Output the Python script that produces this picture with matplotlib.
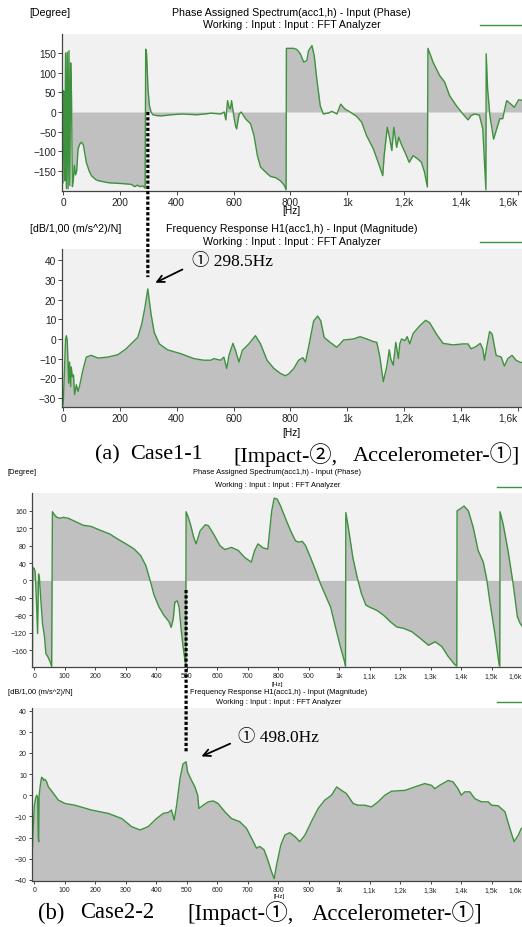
import matplotlib.pyplot as plt
from matplotlib.lines import Line2D
from matplotlib.patches import ConnectionPatch

plt.rcParams['font.family'] = ['Liberation Sans', 'DejaVu Sans']

# ---- (a) Case1-1 : phase ----
pha_f = [0, 1.5, 4, 6, 9, 12, 15, 18, 21, 24, 27, 30, 33, 36, 40, 44, 48, 53, 60, 66,
         72, 82, 92, 100, 115, 125, 160, 205, 240, 252, 262, 270, 281, 289, 291, 294, 299,
         304, 310, 316, 330, 345, 380, 420, 470, 500, 520, 555, 567, 573, 579, 585, 589,
         593, 598, 602, 607, 611, 616, 620, 627, 643, 660, 672, 684, 695, 713, 730, 748,
         765, 778, 785, 786, 800, 812, 823, 835, 847, 858, 864, 876, 884, 893, 905, 916,
         934, 946, 964, 977, 992, 1010, 1033, 1051, 1068, 1092, 1109, 1125, 1130, 1141,
         1150, 1157, 1164, 1174, 1181, 1192, 1203, 1218, 1232, 1249, 1261, 1272, 1282,
         1284, 1302, 1325, 1343, 1360, 1384, 1407, 1425, 1436, 1448, 1465, 1477, 1485,
         1488, 1489, 1494, 1502, 1515, 1526, 1537, 1547, 1561, 1576, 1588, 1603, 1615]
pha_v = [-180, 54, 50, -175, 150, -195, 152, -195, 156, -187, 125, 37, -190, -175, -136,
         -160, -150, -94, -80, -77, -85, -128, -150, -162, -172, -175, -180, -182, -184,
         -190, -186, -190, -188, -194, 160, 150, 60, 16, 0, -7, -9, -10, -7, -5, -7, -5,
         -3, -5, 0, -20, 29, 10, 8, 29, 5, -15, -35, -43, -20, -5, 0, -18, -30, -60, -111,
         -140, -153, -164, -167, -175, -186, -198, 162, 162, 162, 159, 148, 127, 131, 156,
         169, 143, 84, 16, -5, -2.5, 1.7, -5, 20, 7.6, 0, -11, -26, -60, -94, -128, -162,
         -111, -39, -69, -98, -39, -90, -64, -85, -102, -128, -111, -120, -128, -153, -191,
         162, 127, 93, 76, 42, 16, -5, -20, -9, -5, -8, -43, -153, -198, 148, 59, -9, -69,
         -43, -17, -17, 29, 20, 12, 31, 30]

# ---- (a) Case1-1 : magnitude ----
maga_f = [0, 2, 9, 12, 15, 20, 23, 27, 29, 33, 37, 41, 47, 53, 58, 70, 82, 99, 123, 158,
          193, 222, 245, 263, 277, 288, 298.5, 301, 310, 321, 339, 368, 415, 461, 496, 520,
          531, 555, 566, 576, 584, 598, 607, 619, 631, 654, 677, 695, 718, 742, 765, 782,
          794, 812, 829, 844, 853, 864, 882, 896, 907, 919, 940, 963, 975, 987, 1022, 1045,
          1069, 1092, 1104, 1115, 1127, 1139, 1148, 1153, 1162, 1171, 1180, 1185, 1191,
          1203, 1211, 1220, 1232, 1255, 1276, 1290, 1314, 1337, 1372, 1407, 1425, 1436,
          1454, 1468, 1477, 1483, 1489, 1501, 1510, 1524, 1542, 1553, 1565, 1580, 1594,
          1606, 1615]
maga_v = [-34, -29, 0, 1.7, -0.8, -22.5, -11.7, -24.2, -14.2, -19.2, -18.3, -28.3, -23.3,
          -26.7, -24.2, -15.8, -9.2, -8.3, -9.7, -9.2, -8, -5, -1.7, 0.8, 7.5, 15.8, 25.5,
          22.5, 12.5, 3.3, -2.5, -5.5, -7.5, -10, -10.8, -10.8, -10, -10.8, -9.2, -15, -8.3,
          -2.2, -5.8, -11.7, -5.8, -2.5, 1.7, -2.5, -10.8, -15, -17.5, -18.7, -17.8, -15,
          -10.8, -9.5, -11.7, -4.2, 9.2, 11.7, 9.2, 0.8, -1.7, -4.2, -2.5, -0.5, 0, 1.2, 0,
          -1.3, -1.7, -9.2, -21.7, -14.2, -5.5, -10, -13.3, -1.7, -10, -2.5, 0, -0.8, 1.2,
          -2.5, 2.8, 6.7, 9.5, 8.3, 2.5, -2.2, -3, -2.5, -2.5, -5, -3.8, -2.2, -5, -10.8,
          -5.5, 3.8, 2.5, -8.3, -9.2, -13.8, -10, -8.3, -10.8, -11.7, -12]

# ---- (b) Case2-2 : phase ----
phb_f = [-6, -5, 0, 3, 6.5, 10.8, 14, 17, 21.6, 27, 33.5, 38, 44, 52, 57, 59.5, 66, 74,
         84, 95, 111, 133, 160, 187, 214, 247, 274, 301, 328, 349, 366, 380, 393, 409, 425,
         442, 449, 456, 461, 469, 475, 482, 488, 495, 497, 498, 503, 512, 523, 531, 544,
         561, 571, 588, 609, 625, 647, 669, 690, 712, 723, 734, 750, 766, 773, 779, 787,
         797, 808, 825, 841, 857, 868, 879, 890, 906, 923, 939, 955, 972, 988, 1004, 1019,
         1021, 1022, 1032, 1045, 1059, 1073, 1088, 1102, 1124, 1146, 1168, 1189, 1211,
         1239, 1266, 1293, 1315, 1337, 1358, 1380, 1386, 1387, 1396, 1410, 1424, 1440,
         1456, 1473, 1484, 1494, 1511, 1525, 1527, 1528, 1538, 1554, 1571, 1585, 1594, 1600]
phb_v = [-195, 30, 27, 19, -38, -122, 15, 4, -46, -99, -130, -168, -175, -187, -198, 158,
         151, 145, 143, 145, 143, 136, 127, 124, 116, 107, 95, 84, 72, 57, 34, 0, -34, -61,
         -80, -95, -108, -88, -50, -47, -61, -114, -152, -187, -197, 158, 149, 130, 99, 84,
         114, 128, 126, 107, 80, 71, 76, 69, 53, 42, 69, 84, 75, 72, 120, 160, 189, 187,
         171, 141, 114, 91, 88, 90, 80, 53, 23, -8, -34, -61, -107, -152, -190, -197, 156,
         114, 53, 8, -30, -57, -62, -69, -80, -95, -107, -110, -118, -133, -149, -141, -152,
         -175, -194, -197, 160, 164, 171, 160, 122, 69, 42, 4, -46, -122, -194, -197, 158,
         130, 69, -8, -84, -99, -105]

# ---- (b) Case2-2 : magnitude ----
magb_f = [-6, -4, 0, 5, 8, 11, 13, 14.5, 16, 20, 24, 28, 31, 35, 40, 46, 57, 79, 101, 133,
          188, 243, 287, 319, 347, 374, 401, 423, 440, 450, 459, 467, 478, 488, 498, 503,
          516, 527, 536, 540, 554, 571, 587, 603, 625, 647, 674, 696, 713, 729, 740, 754,
          767, 778, 787, 795, 809, 822, 838, 855, 871, 888, 909, 931, 953, 975, 992, 1008,
          1024, 1046, 1062, 1084, 1106, 1128, 1150, 1172, 1216, 1248, 1281, 1303, 1314,
          1330, 1358, 1374, 1390, 1401, 1412, 1429, 1445, 1467, 1489, 1500, 1522, 1544,
          1560, 1574, 1588, 1598]
magb_v = [-25, -17, -5, -1, 0, -1, -20, -22, 0, 5, 8.5, 8, 7, 7.5, 6.5, 4, 2, -2.3, -3.9,
          -4.7, -7, -8.6, -11, -14.8, -16.4, -14.8, -11, -8.6, -8.1, -7, -11.7, -4.7, 7.8,
          14.8, 15.8, 10.9, 7, 3.9, 0, -6.3, -4.7, -3.1, -2.7, -3.9, -7.8, -11, -12.5,
          -15.6, -20.3, -25, -24.2, -25.8, -31, -36, -39.4, -32.8, -23.4, -18.8, -17.7,
          -19.5, -21.9, -18.8, -12.5, -6.3, -2.3, 0, 3.9, 2.3, 0.8, -3.9, -4.7, -4.7, -5.5,
          -3.1, 0, 1.9, 2.3, 3.9, 5.5, 4.7, 3.1, 4.7, 7, 6.3, 3.1, 0, 1.6, 1.6, -1.6, -3.1,
          -3.1, -4.7, -5, -7.8, -15.6, -21.9, -18.8, -15.6]

ticks_a = [0, 200, 400, 600, 800, 1000, 1200, 1400, 1600]
tlab_a = ['0', '200', '400', '600', '800', '1k', '1,2k', '1,4k', '1,6k']
ticks_b = list(range(0, 1700, 100))
tlab_b = [str(t) for t in range(0, 1000, 100)] + ['1k', '1,1k', '1,2k', '1,3k', '1,4k', '1,5k', '1,6k']

peak_a, peak_b = 298.5, 498.0

W, H = 522, 928
GREEN = '#3e923e'
FILL = '#c0c0c0'
BG = '#f1f1f1'
SERIF = ['Liberation Serif', 'Noto Sans CJK KR']
DOTS = (0, (1, 0.65))

fig = plt.figure(figsize=(W / 100, H / 100), dpi=100)


def box(l, t, r, b):
    return [l / W, 1 - b / H, (r - l) / W, (b - t) / H]


def ftext(x, y, s, **kw):
    fig.text(x / W, 1 - y / H, s, **kw)


def legend_line(x0, x1, y):
    fig.add_artist(Line2D([x0 / W, x1 / W], [1 - y / H, 1 - y / H], color=GREEN, lw=1.0,
                          transform=fig.transFigure))


def setup(ax, xlim, ylim, xt, xl, yt, fs, tl):
    ax.set_facecolor(BG)
    ax.set_xlim(xlim)
    ax.set_ylim(ylim)
    for s in ['top', 'right']:
        ax.spines[s].set_visible(False)
    for s in ['left', 'bottom']:
        ax.spines[s].set_color('#444444')
        ax.spines[s].set_linewidth(0.9)
    ax.set_xticks(xt)
    ax.set_xticklabels(xl)
    ax.set_yticks(yt)
    ax.tick_params(direction='out', length=tl, width=0.7, colors='#444444',
                   labelcolor='#222222', labelsize=fs, pad=1.2)
    # last label is pushed inside the window, as in the analyzer screenshot
    ax.get_xticklabels()[-1].set_horizontalalignment('right')


def phase(ax, f, v):
    ax.fill_between(f, v, 0, color=FILL, lw=0)
    ax.plot(f, v, color=GREEN, lw=1.0)


def mag(ax, f, v, bottom):
    ax.fill_between(f, v, bottom, color=FILL, lw=0)
    ax.plot(f, v, color=GREEN, lw=1.0)


def marker_line(axA, yA, axB, yB, freq):
    con = ConnectionPatch(xyA=(freq, yA), coordsA=axA.transData, xyB=(freq, yB), coordsB=axB.transData,
                          color='black', lw=2.3, linestyle=DOTS, capstyle='butt')
    fig.add_artist(con)


# ----- panel a -----
FA = 7.7
ax1 = fig.add_axes(box(62, 35, 522, 192))
setup(ax1, (-3.5, 1615), (-201, 198.5), ticks_a, tlab_a, [-150, -100, -50, 0, 50, 100, 150], 7.3, 3)
phase(ax1, pha_f, pha_v)
ftext(29, 13, '[Degree]', fontsize=FA, va='center')
ftext(291, 13, 'Phase Assigned Spectrum(acc1,h) - Input (Phase)', fontsize=FA, ha='center', va='center')
ftext(292, 25, 'Working : Input : Input : FFT Analyzer', fontsize=FA, ha='center', va='center')
ftext(291, 211, '[Hz]', fontsize=7.3, ha='center', va='center')
legend_line(480, 522, 26)

ax2 = fig.add_axes(box(62, 250, 522, 408))
setup(ax2, (-3.5, 1615), (-34.6, 45.8), ticks_a, tlab_a, list(range(-30, 50, 10)), 7.3, 3)
mag(ax2, maga_f, maga_v, -34.6)
ftext(30, 229, '[dB/1,00 (m/s^2)/N]', fontsize=FA, va='center')
ftext(292, 229, 'Frequency Response H1(acc1,h) - Input (Magnitude)', fontsize=FA, ha='center', va='center')
ftext(292, 242, 'Working : Input : Input : FFT Analyzer', fontsize=FA, ha='center', va='center')
ftext(291, 433, '[Hz]', fontsize=7.3, ha='center', va='center')
legend_line(480, 522, 243)

marker_line(ax1, 0, ax2, 31.5, peak_a)
ax2.annotate('', xy=(316, 28), xytext=(429, 36),
             arrowprops=dict(arrowstyle='->,head_length=0.5,head_width=0.25', lw=1.3, color='black'))
ax2.text(453, 39.7, '\u2460 %.1fHz' % peak_a, fontsize=12.5, va='center', family=SERIF)

FC = 16
ftext(95, 455, '(a)', fontsize=FC, va='center', family=SERIF)
ftext(130, 455, 'Case1-1', fontsize=FC, va='center', family=SERIF)
ftext(233, 455, '[Impact-\u2461,', fontsize=FC, va='center', family=SERIF)
ftext(353, 455, 'Accelerometer-\u2460]', fontsize=FC, va='center', family=SERIF)

# ----- panel b -----
FB = 5.45
ax3 = fig.add_axes(box(31.7, 494, 522, 668))
setup(ax3, (-8.5, 1599), (-199, 201), ticks_b, tlab_b, list(range(-160, 200, 40)), 5.0, 2.2)
phase(ax3, phb_f, phb_v)
ftext(7, 473, '[Degree]', fontsize=FB, va='center')
ftext(277, 473, 'Phase Assigned Spectrum(acc1,h) - Input (Phase)', fontsize=FB, ha='center', va='center')
ftext(278, 486, 'Working : Input : Input : FFT Analyzer', fontsize=FB, ha='center', va='center')
ftext(277, 685, '[Hz]', fontsize=4.6, ha='center', va='center')
legend_line(497, 522, 488)

ax4 = fig.add_axes(box(31.7, 709, 522, 882))
setup(ax4, (-8.5, 1599), (-40.5, 41.2), ticks_b, tlab_b, list(range(-40, 50, 10)), 5.0, 2.2)
mag(ax4, magb_f, magb_v, -40.5)
ftext(8, 693, '[dB/1,00 (m/s^2)/N]', fontsize=FB, va='center')
ftext(279, 693, 'Frequency Response H1(acc1,h) - Input (Magnitude)', fontsize=FB, ha='center', va='center')
ftext(279, 703, 'Working : Input : Input : FFT Analyzer', fontsize=FB, ha='center', va='center')
ftext(279, 897, '[Hz]', fontsize=4.5, ha='center', va='center')
legend_line(497, 522, 703)

marker_line(ax3, -22, ax4, 20.6, peak_b)
ax4.annotate('', xy=(540, 17.8), xytext=(651, 24.9),
             arrowprops=dict(arrowstyle='->,head_length=0.5,head_width=0.25', lw=1.3, color='black'))
ax4.text(668, 27.7, '\u2460 %.1fHz' % peak_b, fontsize=12.5, va='center', family=SERIF)

FC2 = 16.3
ftext(38, 913, '(b)', fontsize=FC2, va='center', family=SERIF)
ftext(80, 913, 'Case2-2', fontsize=FC2, va='center', family=SERIF)
ftext(187, 913, '[Impact-\u2460,', fontsize=FC2, va='center', family=SERIF)
ftext(312, 913, 'Accelerometer-\u2460]', fontsize=FC2, va='center', family=SERIF)

fig.savefig('out.png', dpi=100, facecolor='white')
